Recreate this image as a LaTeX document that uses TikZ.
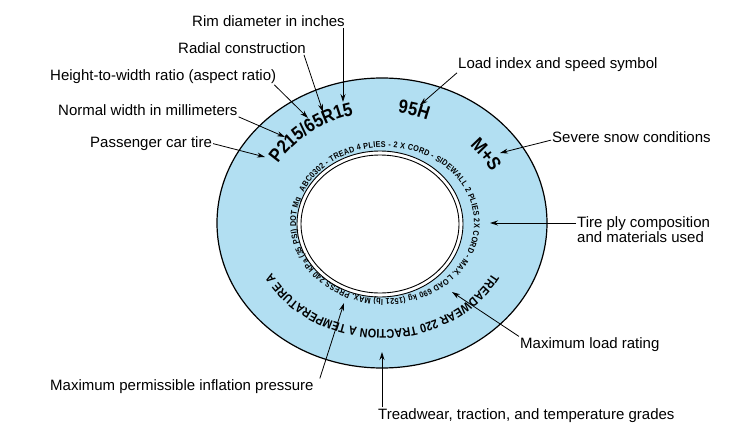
\documentclass[tikz,border=0pt]{standalone}
\usepackage{fontspec}
\setmainfont{Liberation Sans}
\newfontfamily\tirefont[FakeStretch=0.87]{Liberation Sans}
\usetikzlibrary{arrows.meta,calc,decorations.text}
\definecolor{tireblue}{RGB}{178,223,242}
\newcommand\bandbig{\tirefont\bfseries\fontsize{19}{19}\selectfont}
\newcommand\bandmid{\tirefont\bfseries\fontsize{12.5}{12.5}\selectfont}
\newcommand\bandtiny{\tirefont\bfseries\fontsize{8.3}{8.3}\selectfont}

\begin{document}
\begin{tikzpicture}[x=1pt, y=-1pt, >={Stealth[length=8pt,width=5pt]},
  lbl/.style={inner sep=1pt, anchor=base west, font=\fontsize{15}{15.5}\selectfont},
  arr/.style={->, line width=0.8pt},
  tiretxt/.style={decorate, decoration={text along path, text align=center, text={#1}}}]
\useasboundingbox (0,0) rectangle (734,434);
% tire
\coordinate (tc) at (382,223);
\coordinate (rc) at (380,224);
\coordinate (ic) at (385,223);
\filldraw[fill=tireblue, line width=1.2pt] (tc) ellipse [x radius=165pt, y radius=145pt];
\filldraw[fill=white, line width=0.9pt] (rc) ellipse [x radius=83pt, y radius=73pt];
\draw[line width=0.9pt] (rc) ellipse [x radius=79pt, y radius=69pt];
% sidewall markings
\path[tiretxt={|\bandbig|P215/65R15}] ($(tc)+(161:123pt and 111pt)$)
  arc[start angle=161, end angle=91, x radius=123pt, y radius=111pt];
\path[tiretxt={|\bandbig|95H}] ($(tc)+(110:123pt and 111pt)$)
  arc[start angle=110, end angle=40, x radius=123pt, y radius=111pt];
\path[tiretxt={|\bandbig|M+S}] ($(tc)+(70:123pt and 111pt)$)
  arc[start angle=70, end angle=0, x radius=123pt, y radius=111pt];
\path[tiretxt={|\bandmid|TREADWEAR 220 TRACTION A TEMPERATURE A}] ($(tc)+(-5:125pt and 107pt)$)
  arc[start angle=-5, end angle=-175, x radius=125pt, y radius=107pt];
\path[decorate, decoration={text along path, text align=fit to path,
  text={|\bandtiny|ABC0302 - TREAD 4 PLIES - 2 X CORD - SIDEWALL 2 PLIES 2X CORD - MAX. LOAD 690 kg (1521 lb) MAX. PRESS 240 kPa (35 PSI) DOT Mg}}]
  ($(ic)+(156:89pt and 76pt)$) arc[start angle=156, end angle=-199, x radius=89pt, y radius=76pt];
% labels
\node[lbl] (rim) at (191,26.5) {Rim diameter in inches};
\node[lbl] (radial) at (177,53.5) {Radial construction};
\node[lbl] (aspect) at (49,80.5) {Height-to-width ratio (aspect ratio)};
\node[lbl] (width) at (57,115.5) {Normal width in millimeters};
\node[lbl] (pass) at (89,147.5) {Passenger car tire};
\node[lbl] (load) at (457,68.5) {Load index and speed symbol};
\node[lbl] (snow) at (551,142.5) {Severe snow conditions};
\node[lbl, anchor=west, align=left] (ply) at (576,229.5) {Tire ply composition\\and materials used};
\node[lbl] (maxl) at (519,348.5) {Maximum load rating};
\node[lbl] (infl) at (49,390.5) {Maximum permissible inflation pressure};
\node[lbl] (tread) at (377,419.5) {Treadwear, traction, and temperature grades};
% arrow tips
\coordinate (rimT) at (343,102);
\coordinate (radT) at (323,112);
\coordinate (aspT) at (308,118);
\coordinate (widT) at (285,137);
\coordinate (pasT) at (265,157);
\coordinate (loadT) at (420,105);
\coordinate (snowT) at (500,153);
\coordinate (plyT) at (490,223);
\coordinate (maxT) at (452,292);
\coordinate (inflT) at (344,303);
\coordinate (treadT) at (382,352);
\draw[arr] (rim.south -| rimT) -- (rimT);
\draw[arr] ([xshift=-3pt]radial.south east) -- (radT);
\draw[arr] ([xshift=-3pt]aspect.south east) -- (aspT);
\draw[arr] (width.south east) -- (widT);
\draw[arr] (pass.east) -- (pasT);
\draw[arr] (load.south west) -- (loadT);
\draw[arr] ([yshift=-3pt]snow.west) -- (snowT);
\draw[arr] (ply.west |- plyT) -- (plyT);
\draw[arr] (maxl.north west) -- (maxT);
\draw[arr] ([xshift=5pt]infl.north east) -- (inflT);
\draw[arr] (tread.north -| treadT) -- (treadT);
\end{tikzpicture}
\end{document}
